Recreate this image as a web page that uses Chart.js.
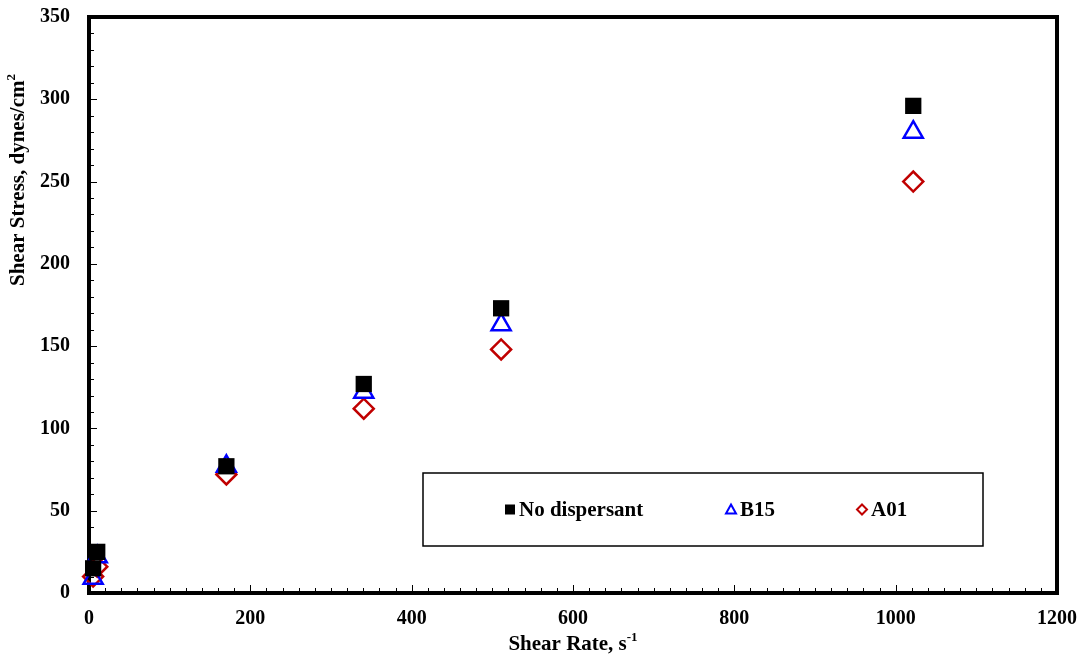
<!DOCTYPE html>
<html>
<head>
<meta charset="utf-8">
<script src="https://cdn.jsdelivr.net/npm/chart.js@4/dist/chart.umd.min.js"></script>
<style>
  html, body { margin: 0; padding: 0; background: #fff; }
  #wrap { width: 1086px; height: 660px; position: relative; }
</style>
</head>
<body>
<div id="wrap"><canvas id="rheoChart"></canvas></div>
<script>
// Shear rate (s-1) for the 3, 6, 100, 200, 300, 600 rpm readings
const shearRate = [5.11, 10.22, 170.3, 340.6, 510.9, 1021.8];

// Shear stress (dynes/cm2)
const noDispersant = [15, 25, 77, 127, 173, 296];
const b15 = [9, 22, 77, 122, 163, 280];
const a01 = [10, 16, 72, 112, 148, 250];

const seriesNames = ['No dispersant', 'B15', 'A01'];
const xTicks = [0, 200, 400, 600, 800, 1000, 1200];
const yTicks = [0, 50, 100, 150, 200, 250, 300, 350];

const FONT = '"Liberation Serif", "Times New Roman", serif';

function toPoints(ys) {
    return shearRate.map((x, i) => ({ x: x, y: ys[i] }));
}

// text with a small raised tail, e.g. s-1 or cm2
function drawSupText(ctx, main, sup, x, y, size) {
    ctx.font = 'bold ' + size + 'px ' + FONT;
    const wMain = ctx.measureText(main).width;
    ctx.font = 'bold ' + Math.round(size * 0.62) + 'px ' + FONT;
    const wSup = ctx.measureText(sup).width;
    const start = x - (wMain + wSup) / 2;
    ctx.textAlign = 'left';
    ctx.font = 'bold ' + size + 'px ' + FONT;
    ctx.fillText(main, start, y);
    ctx.font = 'bold ' + Math.round(size * 0.62) + 'px ' + FONT;
    ctx.fillText(sup, start + wMain, y - size * 0.33);
}

// Frame, inside tick marks and axis titles
const framePlugin = {
    id: 'frame',
    beforeDatasetsDraw(chart) {
        const ctx = chart.ctx;
        const a = chart.chartArea;
        const xs = chart.scales.x;
        const ys = chart.scales.y;
        ctx.save();
        ctx.strokeStyle = '#000';

        // minor / major ticks pointing into the plot
        ctx.lineWidth = 1;
        ctx.beginPath();
        for (let v = 0; v <= 1200; v += 20) {
            const px = Math.round(xs.getPixelForValue(v)) + 0.5;
            const len = v % 200 === 0 ? 8 : 5;
            ctx.moveTo(px, a.bottom);
            ctx.lineTo(px, a.bottom - len);
        }
        for (let v = 0; v <= 350; v += 10) {
            const py = Math.round(ys.getPixelForValue(v)) + 0.5;
            const len = v % 50 === 0 ? 8 : 5;
            ctx.moveTo(a.left, py);
            ctx.lineTo(a.left + len, py);
        }
        ctx.stroke();

        // thick box round the plot
        ctx.lineWidth = 4;
        ctx.strokeRect(a.left, a.top, a.right - a.left, a.bottom - a.top);

        // axis titles
        ctx.fillStyle = '#000';
        ctx.textBaseline = 'middle';
        drawSupText(ctx, 'Shear Rate, s', '-1', (a.left + a.right) / 2, 645, 21);
        ctx.translate(19, 180);
        ctx.rotate(-Math.PI / 2);
        drawSupText(ctx, 'Shear Stress, dynes/cm', '2', 0, 0, 21);
        ctx.restore();
    }
};

// Legend box drawn inside the plot area
const legendBoxPlugin = {
    id: 'legendBox',
    afterDraw(chart) {
        const ctx = chart.ctx;
        const left = 423, top = 473, w = 560, h = 73;
        const cy = top + h / 2;
        ctx.save();
        ctx.fillStyle = '#fff';
        ctx.fillRect(left, top, w, h);
        ctx.strokeStyle = '#000';
        ctx.lineWidth = 1.5;
        ctx.strokeRect(left, top, w, h);

        const marks = [510, 731, 862];
        ctx.font = 'bold 21px ' + FONT;
        ctx.textBaseline = 'middle';
        ctx.textAlign = 'left';

        // square
        ctx.fillStyle = '#000';
        ctx.fillRect(marks[0] - 5, cy - 5, 10, 10);
        // triangle
        ctx.strokeStyle = '#0000FF';
        ctx.lineWidth = 2;
        ctx.beginPath();
        ctx.moveTo(marks[1], cy - 5);
        ctx.lineTo(marks[1] + 5, cy + 4);
        ctx.lineTo(marks[1] - 5, cy + 4);
        ctx.closePath();
        ctx.stroke();
        // diamond
        ctx.strokeStyle = '#C00000';
        ctx.beginPath();
        ctx.moveTo(marks[2], cy - 5);
        ctx.lineTo(marks[2] + 5, cy);
        ctx.lineTo(marks[2], cy + 5);
        ctx.lineTo(marks[2] - 5, cy);
        ctx.closePath();
        ctx.stroke();

        ctx.fillStyle = '#000';
        seriesNames.forEach((name, i) => {
            ctx.fillText(name, marks[i] + 9, cy + 1);
        });
        ctx.restore();
    }
};

new Chart(document.getElementById('rheoChart'), {
    type: 'scatter',
    data: {
        datasets: [
            {
                label: seriesNames[0],
                data: toPoints(noDispersant),
                pointStyle: 'rect',
                pointRadius: 11.5,
                backgroundColor: '#000',
                borderColor: '#000',
                borderWidth: 0,
                clip: false
            },
            {
                label: seriesNames[1],
                data: toPoints(b15),
                pointStyle: 'triangle',
                pointRadius: 11,
                backgroundColor: 'rgba(0,0,0,0)',
                borderColor: '#0000FF',
                borderWidth: 2.5,
                clip: false
            },
            {
                label: seriesNames[2],
                data: toPoints(a01),
                pointStyle: 'rectRot',
                pointRadius: 10,
                backgroundColor: 'rgba(0,0,0,0)',
                borderColor: '#C00000',
                borderWidth: 2.5,
                clip: false
            }
        ]
    },
    options: {
        responsive: true,
        maintainAspectRatio: false,
        animation: false,
        layout: { padding: { left: 0, top: 17, right: 29, bottom: 0 } },
        scales: {
            x: {
                type: 'linear',
                min: 0,
                max: 1200,
                afterBuildTicks: (scale) => { scale.ticks = xTicks.map(v => ({ value: v })); },
                afterFit: (scale) => { scale.height = 67; scale.paddingLeft = 0; scale.paddingRight = 0; },
                grid: { display: false },
                border: { display: false },
                ticks: {
                    color: '#000',
                    padding: 6,
                    callback: (v) => String(v),
                    font: { family: FONT, size: 20, weight: 'bold' }
                }
            },
            y: {
                min: 0,
                max: 350,
                afterBuildTicks: (scale) => { scale.ticks = yTicks.map(v => ({ value: v })); },
                afterFit: (scale) => { scale.width = 89; scale.paddingTop = 0; scale.paddingBottom = 0; },
                grid: { display: false },
                border: { display: false },
                ticks: {
                    color: '#000',
                    padding: 11,
                    font: { family: FONT, size: 20, weight: 'bold' }
                }
            }
        },
        plugins: {
            legend: { display: false },
            tooltip: { enabled: false }
        }
    },
    plugins: [framePlugin, legendBoxPlugin]
});
</script>
</body>
</html>
